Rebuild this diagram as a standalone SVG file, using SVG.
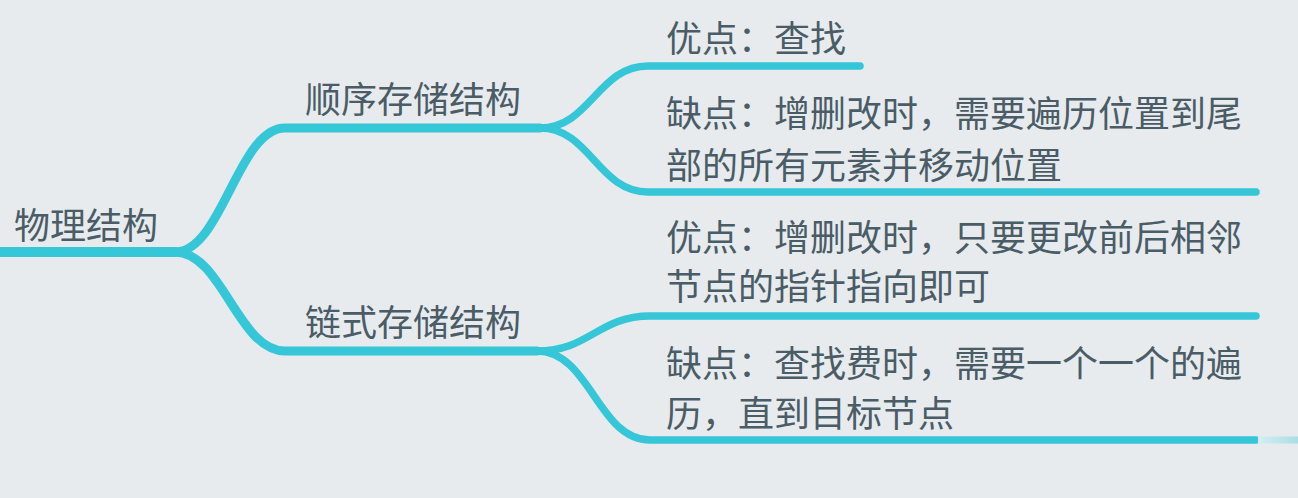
<svg xmlns="http://www.w3.org/2000/svg" width="1298" height="498" viewBox="0 0 1298 498">
<defs>
<style>
.bg{fill:#e7ebee}
.c{fill:none;stroke:#35c6d8;stroke-linecap:round;stroke-linejoin:round}
.l0{stroke-width:10}
.l1{stroke-width:9}
.l2{stroke-width:7.5}
.t{font-family:"Noto Sans CJK SC","Noto Sans",sans-serif;font-size:36px;fill:#4a5c66}
</style>
<linearGradient id="fade" x1="0" y1="0" x2="1" y2="0">
<stop offset="0" stop-color="#d6edf1"/>
<stop offset="1" stop-color="#a9dee6"/>
</linearGradient>
</defs>
<rect class="bg" x="0" y="0" width="1298" height="498"/>
<g id="connectors">
<path class="c l0" d="M-10,252 L175,252"/>
<path class="c l1" d="M175,252 C222,252 238,128 285,128 L540,128"/>
<path class="c l1" d="M175,252 C222,252 238,351 285,351 L537,351"/>
<path class="c l2" d="M540,128 C590,128 598,66 648,66 L860,66"/>
<path class="c l2" d="M540,128 C590,128 598,192 648,192 L1256,192"/>
<path class="c l2" d="M537,351 C590,351 598,316 650,316 L1256,316"/>
<path class="c l2" d="M537,351 C590,351 598,440 650,440 L1256,440"/>
<rect x="1258" y="436.5" width="40" height="7" fill="url(#fade)"/>
</g>
<g id="root"><text class="t" x="14" y="239">物理结构</text></g>
<g id="seq"><text class="t" x="305" y="113">顺序存储结构</text></g>
<g id="link"><text class="t" x="305" y="336">链式存储结构</text></g>
<g id="seq-pro"><text class="t" x="666" y="52">优点：查找</text></g>
<g id="seq-con"><text class="t" x="666" y="127">缺点：增删改时，需要遍历位置到尾</text><text class="t" x="666" y="179">部的所有元素并移动位置</text></g>
<g id="link-pro"><text class="t" x="666" y="251">优点：增删改时，只要更改前后相邻</text><text class="t" x="666" y="300">节点的指针指向即可</text></g>
<g id="link-con"><text class="t" x="666" y="377">缺点：查找费时，需要一个一个的遍</text><text class="t" x="666" y="427">历，直到目标节点</text></g>
</svg>
